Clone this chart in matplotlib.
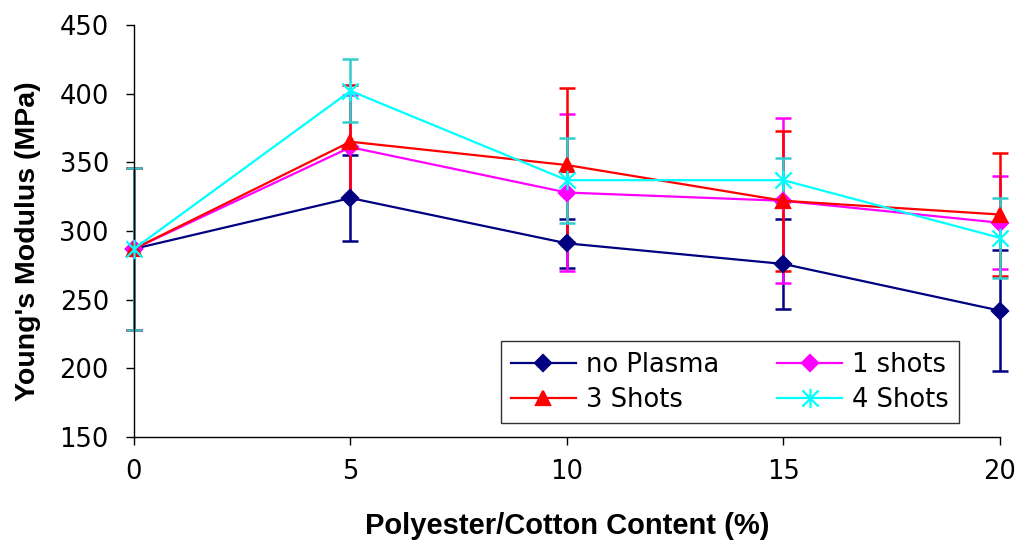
import matplotlib.pyplot as plt
import numpy as np
from matplotlib.path import Path

plt.rcParams['font.family'] = ['DejaVu Sans']

content = [0, 5, 10, 15, 20]

no_plasma = [287, 324, 291, 276, 242]
no_plasma_err = [59, 31, 18, 33, 44]

one_shot = [287, 361, 328, 322, 306]
one_shot_err = [59, 38, 57, 60, 34]

three_shots = [287, 365, 348, 322, 312]
three_shots_err = [59, 41, 56, 51, 45]

four_shots = [287, 402, 337, 337, 295]
four_shots_err = [59, 23, 31, 16, 29]

# excel style star marker: an X with a vertical stroke
star = Path([(-1, -1), (1, 1), (-1, 1), (1, -1), (0, -1.2), (0, 1.2)],
            [Path.MOVETO, Path.LINETO, Path.MOVETO, Path.LINETO, Path.MOVETO, Path.LINETO])

fig = plt.figure(figsize=(10.19, 5.43), dpi=100)
ax = fig.add_axes([0.1315, 0.1952, 0.8498, 0.7588])

series = [
    ("no Plasma", no_plasma, no_plasma_err, '#000080', '#000080', 'D', 8.5),
    ("1 shots", one_shot, one_shot_err, '#FF00FF', '#FF00FF', 'D', 8.5),
    ("3 Shots", three_shots, three_shots_err, '#FF0000', '#FF0000', '^', 9.5),
    ("4 Shots", four_shots, four_shots_err, '#00FFFF', '#33CCCC', star, 14),
]

handles = {}
for name, vals, err, col, ecol, mk, ms in series:
    eb = ax.errorbar(content, vals, yerr=err, fmt='none', ecolor=ecol,
                     elinewidth=1.8, capsize=6, capthick=1.8, zorder=2)
    for part in eb.get_children():
        part.set_clip_on(False)
for name, vals, err, col, ecol, mk, ms in series:
    ln, = ax.plot(content, vals, color=col, lw=1.6, marker=mk, ms=ms,
                  mfc=col, mec=col, mew=1.6, zorder=3, label=name, clip_on=False)
    handles[name] = ln

ax.set_xlim(0, 20)
ax.set_ylim(150, 450)
ax.set_xticks(np.arange(0, 21, 5))
ax.set_yticks(np.arange(150, 451, 50))

ax.spines['right'].set_visible(False)
ax.spines['top'].set_visible(False)
ax.spines['left'].set_linewidth(1.0)
ax.spines['bottom'].set_linewidth(1.0)
ax.tick_params(axis='both', direction='out', length=6, width=1.0, labelsize=18.5)
ax.tick_params(axis='y', pad=12)
ax.tick_params(axis='x', pad=10)

ax.set_xlabel("Polyester/Cotton Content (%)", fontsize=21, fontweight='bold',
              family='Liberation Sans', labelpad=19)
ax.set_ylabel("Young's Modulus (MPa)", fontsize=20.5, fontweight='bold',
              family='Liberation Sans')
ax.yaxis.set_label_coords(-0.107, 0.476)

order = ["no Plasma", "3 Shots", "1 shots", "4 Shots"]
leg = ax.legend([handles[k] for k in order], order, ncol=2, loc='lower left',
                bbox_to_anchor=(0.4238, 0.034, 0.5289, 0.1966), mode='expand',
                fontsize=18.5, frameon=True, fancybox=False, edgecolor='black',
                handlelength=2.5, columnspacing=0.8, handletextpad=0.4,
                borderpad=0.4, labelspacing=0.35, borderaxespad=0)
leg.get_frame().set_linewidth(1.0)

fig.savefig("out.png", dpi=100)
